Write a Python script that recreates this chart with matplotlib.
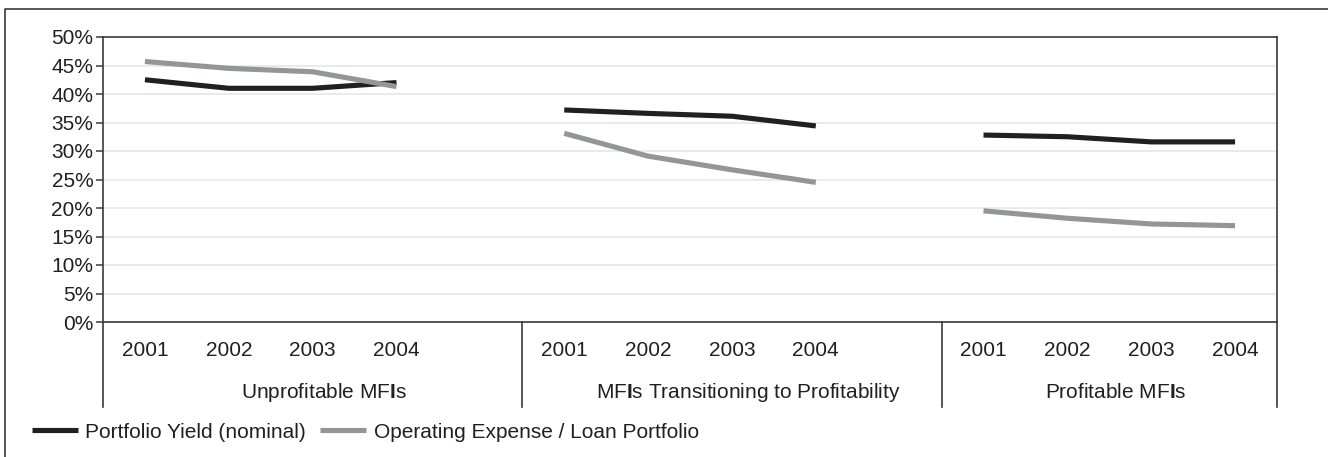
import matplotlib
matplotlib.use("Agg")
import matplotlib.pyplot as plt
from matplotlib.lines import Line2D
import matplotlib.transforms as mtransforms
import numpy as np

plt.rcParams['font.family'] = ['Liberation Sans', 'DejaVu Sans']
plt.rcParams['mathtext.fontset'] = 'custom'
plt.rcParams['mathtext.rm'] = 'Liberation Sans'
plt.rcParams['mathtext.bf'] = 'Liberation Sans:bold'

# chart data (percent)
groups = ["Unprofitable MF$\\mathbf{I}$s",
          "MF$\\mathbf{I}$s Transitioning to Profitability",
          "Profitable MF$\\mathbf{I}$s"]
years = ["2001", "2002", "2003", "2004"]
portfolio_yield = [
    [42.5, 41.0, 41.0, 42.0],
    [37.2, 36.6, 36.1, 34.4],
    [32.8, 32.5, 31.6, 31.6],
]
opex_ratio = [
    [45.7, 44.5, 43.9, 41.3],
    [33.1, 29.1, 26.7, 24.5],
    [19.5, 18.2, 17.2, 16.9],
]
series_names = ["Portfolio Yield (nominal)", "Operating Expense / Loan Portfolio"]

BLACK = "#231f20"
GRAY = "#939598"
FRAME = "#3a3a3a"
FS = 15
LW = 3.7

fig = plt.figure(figsize=(13.28, 4.57), dpi=100)
ax = fig.add_axes([103 / 1328, 1 - 322 / 457, (1277 - 103) / 1328, 285 / 457])

# each group takes 4 year slots plus one empty slot, except the last group
slot = 5
group_x = [np.arange(4) + g * slot for g in range(len(groups))]

for g in range(len(groups)):
    ax.plot(group_x[g], portfolio_yield[g], color=BLACK, lw=LW,
            solid_capstyle='butt', solid_joinstyle='round', zorder=3)
    ax.plot(group_x[g], opex_ratio[g], color=GRAY, lw=LW,
            solid_capstyle='butt', solid_joinstyle='round', zorder=3)

xmin, xmax = -0.5, group_x[-1][-1] + 0.5
ax.set_xlim(xmin, xmax)
ax.set_ylim(0, 50)
ax.set_yticks(np.arange(0, 51, 5))
ax.set_yticklabels([f"{v}%" for v in range(0, 51, 5)], fontsize=FS, color=BLACK)
ax.tick_params(axis='y', length=5, width=1.1, color=FRAME, pad=2)
ax.set_xticks([])
ax.grid(axis='y', color="#e6e6e6", lw=1.2, zorder=0)
for s in ax.spines.values():
    s.set_color(FRAME)
    s.set_linewidth(1.2)

# category labels under the axis
trans = mtransforms.blended_transform_factory(ax.transData, ax.transAxes)
label_shift = [0.14, 0.2, 0.08]
for g in range(len(groups)):
    for i, yr in enumerate(years):
        ax.text(group_x[g][i], -29 / 285, yr, transform=trans, ha='center',
                va='center', fontsize=FS, color=BLACK)
    lo = g * slot - 0.5
    hi = min(lo + slot, xmax)
    ax.text((lo + hi) / 2 + label_shift[g], -71 / 285, groups[g], transform=trans,
            ha='center', va='center', fontsize=FS, color=BLACK)

# vertical separators between groups
for xs in [xmin, slot - 0.5, 2 * slot - 0.5, xmax]:
    ax.plot([xs, xs], [0, -85 / 285], transform=trans, color=FRAME, lw=1.2,
            clip_on=False)

handles = [Line2D([], [], color=BLACK, lw=LW, solid_capstyle='butt'),
           Line2D([], [], color=GRAY, lw=LW, solid_capstyle='butt')]
fig.legend(handles, series_names, loc='center left',
           bbox_to_anchor=(32 / 1328, 1 - 432 / 457), ncol=2, frameon=False,
           fontsize=FS, handlelength=2.2, handletextpad=0.35,
           columnspacing=0.7, borderpad=0, borderaxespad=0,
           labelcolor=BLACK)

# outer border (left and top edges)
fig.add_artist(Line2D([5 / 1328, 5 / 1328, 1], [0, 1 - 9 / 457, 1 - 9 / 457],
                      transform=fig.transFigure, color=FRAME, lw=1.2))

fig.savefig("out.png", dpi=100)
